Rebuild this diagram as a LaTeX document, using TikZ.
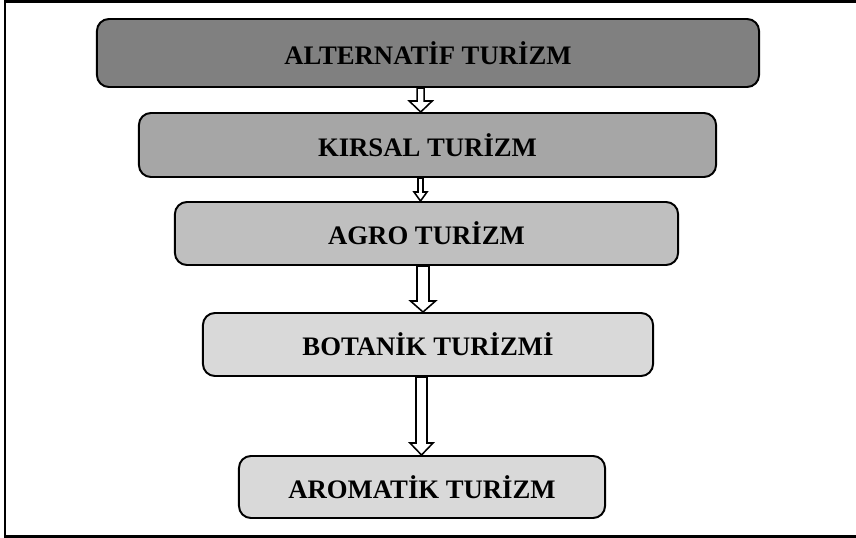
\documentclass[tikz,border=0pt]{standalone}
\usepackage{fontspec}
\setmainfont{Liberation Serif}
\usetikzlibrary{calc}

\definecolor{levelA}{HTML}{808080}
\definecolor{levelB}{HTML}{A6A6A6}
\definecolor{levelC}{HTML}{BFBFBF}
\definecolor{levelD}{HTML}{D9D9D9}

\tikzset{
  level/.style={draw, fill=#1, line width=1.4pt, rounded corners=0.3cm, inner sep=0pt,
    font=\bfseries\fontsize{19}{22}\selectfont},
  hollow/.style n args={3}{draw, fill=white, line width=1.1pt, line join=miter,
    to path={($(\tikztostart)+(-#1,0)$) -- ($(\tikztotarget)+(-#1,-#3)$)
      -- ($(\tikztotarget)+(-#2,-#3)$) -- (\tikztotarget) -- ($(\tikztotarget)+(#2,-#3)$)
      -- ($(\tikztotarget)+(#1,-#3)$) -- ($(\tikztostart)+(#1,0)$) -- cycle}}
}

\begin{document}
\begin{tikzpicture}[x=0.025cm, y=-0.025cm]
  \useasboundingbox (0,0) rectangle (856,538);
  \draw[line width=1.5pt] (5,1.5) rectangle (870,536.5);

  \node[level=levelA, minimum width=16.55cm, minimum height=1.7cm] (alt) at (428,53) {ALTERNATİF TURİZM};
  \node[level=levelB, minimum width=14.425cm, minimum height=1.6cm] (kirsal) at (427.5,145) {KIRSAL TURİZM};
  \node[level=levelC, minimum width=12.575cm, minimum height=1.575cm] (agro) at (426.5,233.5) {AGRO TURİZM};
  \node[level=levelD, minimum width=11.25cm, minimum height=1.575cm] (botanik) at (428,344.5) {BOTANİK TURİZMİ};
  \node[level=levelD, minimum width=9.15cm, minimum height=1.55cm] (aromatik) at (422,487) {AROMATİK TURİZM};

  \coordinate (ax1) at (420.7,0);
  \coordinate (ax2) at (420.5,0);
  \coordinate (ax3) at (423,0);
  \coordinate (ax4) at (421.5,0);
  \draw[hollow={3.5}{11.5}{11}] (alt.south -| ax1) to (kirsal.north -| ax1);
  \draw[hollow={2.5}{6.5}{9}] (kirsal.south -| ax2) to (agro.north -| ax2);
  \draw[hollow={6}{12.5}{11}] (agro.south -| ax3) to (botanik.north -| ax3);
  \draw[hollow={5.5}{11.5}{12}] (botanik.south -| ax4) to (aromatik.north -| ax4);
\end{tikzpicture}
\end{document}
